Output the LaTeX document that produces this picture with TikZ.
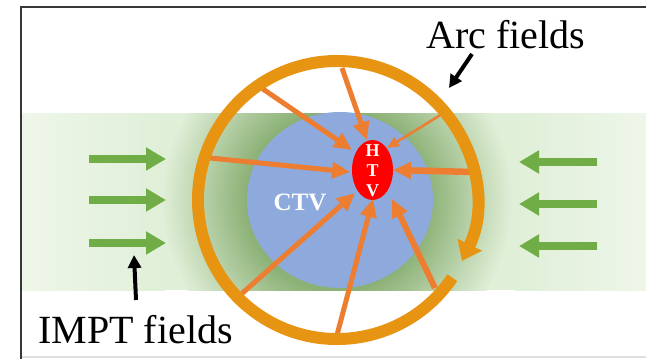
\documentclass[tikz,border=0pt]{standalone}
\usepackage{fontspec}
\setmainfont{Liberation Serif}
\usetikzlibrary{arrows.meta,shapes.geometric}

\definecolor{bandgreen}{RGB}{224,239,216}
\definecolor{bandlight}{RGB}{238,246,234}
\definecolor{glowgreen}{RGB}{140,177,118}
\definecolor{ctvblue}{RGB}{142,169,219}
\definecolor{ringorange}{RGB}{231,148,18}
\definecolor{rayorange}{RGB}{237,125,49}
\definecolor{fieldgreen}{RGB}{112,173,71}
\definecolor{framegray}{RGB}{55,55,55}

% dark halo around the target that fades into the beam band
\pgfdeclareradialshading{haloshade}{\pgfpointorigin}{%
  color(0bp)=(glowgreen); color(13bp)=(glowgreen);
  color(25bp)=(bandgreen); color(50bp)=(bandgreen)}

\begin{document}
\begin{tikzpicture}[x=1pt,y=-1pt,
  ray/.style={rayorange, line width=5pt, -{Triangle[width=16pt,length=18pt]}},
  thinray/.style={rayorange, line width=2.5pt, -{Triangle[width=10pt,length=12pt]}},
  fieldarrow/.style={fieldgreen, line width=8pt, -{Triangle[width=22pt,length=20pt]}},
  pointer/.style={black, line width=4pt, -{Triangle[width=13pt,length=13pt]}},
  label/.style={font=\fontsize{40}{48}\selectfont, anchor=base, inner sep=0pt},
]
\useasboundingbox (0,0) rectangle (646,359);
\fill[white] (0,0) rectangle (646,359);

% IMPT beam band
\fill[bandgreen] (22,113) rectangle (646,290);
\shade[left color=bandlight, right color=bandgreen] (22,113) rectangle (165,290);
\shade[left color=bandgreen, right color=bandlight] (515,113) rectangle (646,290);
\begin{scope}
  \clip (22,113) rectangle (646,290);
  \shade[shading=haloshade] (337,200) circle (175);
\end{scope}

% clinical target volume and high-risk target volume
\node[ellipse, fill=ctvblue, minimum width=186pt, minimum height=176pt, inner sep=0pt] (ctv) at (340,200) {};
\node[font=\fontsize{25}{30}\selectfont\bfseries, text=white, anchor=base, inner sep=0pt] (ctvtext) at (300,210) {CTV};
\node[ellipse, fill=red, minimum width=41pt, minimum height=60pt, inner sep=0pt] (htv) at (372.5,170) {};
\node[font=\fontsize{18}{20}\selectfont\bfseries, text=white, align=center, inner sep=0pt] (htvtext) at (372.5,171) {H\\T\\V};

% arc beams converging on the HTV
\coordinate (r1s) at (260,87);  \coordinate (r1e) at (352,150);
\coordinate (r2s) at (342,68);  \coordinate (r2e) at (367,140);
\coordinate (r3s) at (442,114); \coordinate (r3e) at (387,148);
\coordinate (r4s) at (210,158); \coordinate (r4e) at (350,172);
\coordinate (r5s) at (473,172); \coordinate (r5e) at (393,170);
\coordinate (r6s) at (238,297); \coordinate (r6e) at (355,193);
\coordinate (r7s) at (337,335); \coordinate (r7e) at (373,199);
\coordinate (r8s) at (435,288); \coordinate (r8e) at (392,199);
\draw[ray] (r1s) -- (r1e);
\draw[ray] (r2s) -- (r2e);
\draw[thinray] (r3s) -- (r3e);
\draw[ray] (r4s) -- (r4e);
\draw[ray, line width=6.5pt] (r5s) -- (r5e);
\draw[ray] (r6s) -- (r6e);
\draw[ray] (r7s) -- (r7e);
\draw[ray, line width=6pt] (r8s) -- (r8e);

% arc rotation ring
\coordinate (ringc) at (337,200);
\draw[ringorange, line width=12pt, -{Triangle[width=26pt,length=18pt]}]
  (ringc) ++(34:139) arc[start angle=34, end angle=386, radius=139];

% IMPT fields from both sides
\foreach \i/\y in {1/159,2/200,3/243}{
  \coordinate (la\i) at (89,\y); \coordinate (lb\i) at (166,\y);
  \draw[fieldarrow] (la\i) -- (lb\i);
}
\foreach \i/\y in {1/162,2/204,3/246}{
  \coordinate (ra\i) at (597,\y); \coordinate (rb\i) at (519,\y);
  \draw[fieldarrow] (ra\i) -- (rb\i);
}

% labels and pointers
\node[label] (arclabel) at (506,48) {Arc fields};
\coordinate (arcptr) at (449,88);
\draw[pointer] (472,54) -- (arcptr);
\node[label] (imptlabel) at (135.5,343) {IMPT fields};
\coordinate (imptptr) at (134,255);
\draw[pointer] (136,300) -- (imptptr);

% frame
\draw[gray!25, line width=1.5pt] (21,357) -- (646,357);
\draw[framegray, line width=2pt] (646,7) -- (21,7) -- (21,359);
\end{tikzpicture}
\end{document}
